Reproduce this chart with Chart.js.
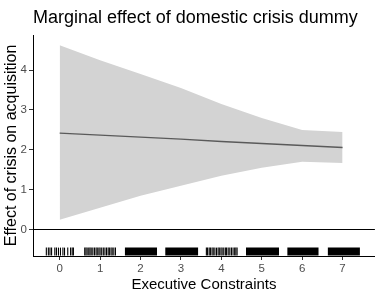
<!DOCTYPE html>
<html>
<head>
<meta charset="utf-8">
<script src="https://cdn.jsdelivr.net/npm/chart.js@4/dist/chart.umd.min.js"></script>
<style>
html,body{margin:0;padding:0;background:#fff;}
#wrap{width:380px;height:298px;}
</style>
</head>
<body>
<div id="wrap"><canvas id="c" width="380" height="298"></canvas></div>
<script>
// ---- data ----
const xVals     = [0, 1, 2, 3, 4, 5, 6, 7];
const effect    = [2.42, 2.37, 2.32, 2.27, 2.21, 2.16, 2.11, 2.06];
const upperCI   = [4.62, 4.25, 3.90, 3.55, 3.15, 2.80, 2.50, 2.45];
const lowerCI   = [0.25, 0.55, 0.85, 1.10, 1.35, 1.55, 1.70, 1.67];
const xTicks    = [0, 1, 2, 3, 4, 5, 6, 7];
const yTicks    = [0, 1, 2, 3, 4];
// rug: dense blocks [start, end] and individual sparse ticks
const rugBlocks = [[1.61, 2.41], [2.61, 3.43], [4.61, 5.43], [5.63, 6.41], [6.63, 7.43]];
const rugTicks  = [-0.33,-0.28,-0.24,-0.2,-0.12,-0.08,-0.03,0.02,0.08,0.12,0.2,0.27,0.31,0.34,
                   0.62,0.65,0.68,0.72,0.75,0.78,0.82,0.86,0.9,0.93,0.97,1.0,1.04,1.08,1.12,1.16,1.2,1.23,1.27,1.3,1.34,1.38,
                   3.63,3.66,3.7,3.73,3.77,3.8,3.84,3.88,3.92,3.95,3.99,4.02,4.06,4.1,4.13,4.17,4.21,4.25,4.29,4.33,4.36,4.39];
const rugTop = -0.45, rugBottom = -0.65;

const FONT = '"Liberation Sans", Arial, Helvetica, sans-serif';

const datasets = [];
rugBlocks.forEach(b => {
  datasets.push({
    type: 'line',
    data: [{x: b[0], y: rugTop}, {x: b[1], y: rugTop}],
    borderWidth: 0, pointRadius: 0, borderColor: 'rgba(0,0,0,0)',
    backgroundColor: '#000', fill: {value: rugBottom}, order: 5
  });
});
datasets.push({
  type: 'scatter',
  data: rugTicks.map(v => ({x: v, y: (rugTop + rugBottom) / 2})),
  pointStyle: 'line', rotation: 90, radius: 4, borderWidth: 1.1,
  borderColor: '#000', order: 5
});
const lowerIdx = datasets.length;
datasets.push({
  type: 'line',
  data: xVals.map((x, i) => ({x, y: lowerCI[i]})),
  borderWidth: 0, pointRadius: 0, borderColor: 'rgba(0,0,0,0)', fill: false, order: 3
});
datasets.push({
  type: 'line',
  data: xVals.map((x, i) => ({x, y: upperCI[i]})),
  borderWidth: 0, pointRadius: 0, borderColor: 'rgba(0,0,0,0)',
  backgroundColor: '#d3d3d3', fill: lowerIdx, order: 3
});
datasets.push({
  type: 'line',
  data: xVals.map((x, i) => ({x, y: effect[i]})),
  borderWidth: 1.3, pointRadius: 0, borderColor: '#5a5a5a', fill: false, order: 1
});

const titlePlugin = {
  id: 'plotTitle',
  afterDraw(chart) {
    const ctx = chart.ctx;
    ctx.save();
    ctx.font = '18px ' + FONT;
    ctx.fillStyle = '#000';
    ctx.textBaseline = 'middle';
    ctx.textAlign = 'left';
    ctx.fillText('Marginal effect of domestic crisis dummy', chart.chartArea.left, 18);
    ctx.restore();
  }
};

new Chart(document.getElementById('c'), {
  type: 'scatter',
  data: {datasets},
  plugins: [titlePlugin],
  options: {
    responsive: false,
    animation: false,
    layout: {padding: {top: 35, left: 0, right: 0, bottom: 0}},
    plugins: {legend: {display: false}, tooltip: {enabled: false}, title: {display: false}},
    scales: {
      x: {
        type: 'linear', min: -0.66, max: 7.8,
        afterBuildTicks: s => { s.ticks = xTicks.map(v => ({value: v})); },
        afterFit: s => { s.height = 42; },
        grid: {drawOnChartArea: false, drawTicks: true, tickLength: 4, tickColor: '#333', color: '#333'},
        border: {display: true, color: '#000', width: 1},
        ticks: {color: '#4d4d4d', font: {family: FONT, size: 11.5}, padding: 2, maxRotation: 0},
        title: {display: true, text: 'Executive Constraints', color: '#000',
                font: {family: FONT, size: 15}, padding: {top: 0, bottom: 4}}
      },
      y: {
        type: 'linear', min: -0.66, max: 4.88,
        afterBuildTicks: s => { s.ticks = yTicks.map(v => ({value: v})); },
        afterFit: s => { s.width = 33; },
        grid: {drawOnChartArea: true, drawTicks: true, tickLength: 4, tickColor: '#333',
               color: c => (c.tick && c.tick.value === 0) ? '#000' : 'rgba(0,0,0,0)', lineWidth: 1},
        border: {display: true, color: '#000', width: 1},
        ticks: {color: '#4d4d4d', font: {family: FONT, size: 11.5}, padding: 2},
        title: {display: true, text: 'Effect of crisis on acquisition', color: '#000',
                font: {family: FONT, size: 16}, padding: {top: 2, bottom: 0}}
      }
    }
  }
});
</script>
</body>
</html>
